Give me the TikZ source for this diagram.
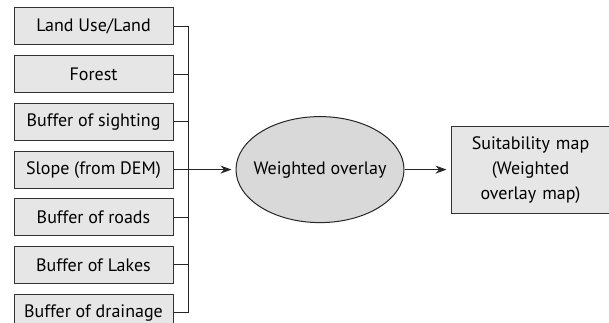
\documentclass[tikz,border=0pt]{standalone}
\usepackage{fontspec}
\setmainfont{PT Sans}
\usepackage{xcolor}
\usetikzlibrary{arrows.meta, positioning, shapes.geometric, calc}
\definecolor{boxgray}{HTML}{E6E6E6}
\definecolor{ovalgray}{HTML}{D9D9D9}

\begin{document}
\begin{tikzpicture}[
  x=1pt, y=1pt,
  layer/.style={rectangle, draw=black!80, line width=1pt, fill=boxgray,
    minimum width=159pt, minimum height=37pt, inner xsep=1pt, inner ysep=2pt,
    font=\fontsize{18}{25}\selectfont},
  overlaynode/.style={ellipse, draw=black!85, line width=1pt, fill=ovalgray,
    minimum width=168pt, minimum height=106pt, inner sep=0pt,
    font=\fontsize{18}{25}\selectfont},
  resultnode/.style={layer, minimum height=87pt, text width=155pt,
    inner xsep=2pt, align=center},
  link/.style={line width=1pt, black!85},
  arr/.style={link, -{Stealth[length=11pt, width=8pt]}, shorten >=4pt},
]
\useasboundingbox (0,0) rectangle (609,323);
% ====== INPUT LAYERS ======
\node[layer] (l_land) at (93.5, 296.5) {Land Use/Land};
\node[layer, below=9.7pt of l_land] (l_forest) {Forest};
\node[layer, below=9.7pt of l_forest] (l_sight) {Buffer of sighting};
\node[layer, below=9.7pt of l_sight] (l_slope) {Slope (from DEM)};
\node[layer, below=9.7pt of l_slope] (l_roads) {Buffer of roads};
\node[layer, below=9.7pt of l_roads] (l_lakes) {Buffer of Lakes};
\node[layer, below=9.7pt of l_lakes] (l_drain) {Buffer of drainage};
%
% ====== OVERLAY AND RESULT ======
% text boxed narrower than it is, so the ellipse keeps its own size
\node[overlaynode, right=62pt of l_slope] (wo) {\makebox[100pt]{Weighted overlay}};
\node[resultnode, right=46pt of wo] (suit)
  {Suitability map\\(Weighted\\overlay map)};
%
% ====== CONNECTORS ======
\coordinate (bus) at ($(l_land.east)+(15pt,0)$);
\draw[link] (l_land.east) -- (bus) |- (l_drain.east);
\foreach \n in {l_forest, l_sight, l_roads, l_lakes}
  \draw[link] (\n.east) -- (\n.east -| bus);
\draw[arr] (l_slope.east) -- (wo.west);
\draw[arr] (wo.east) -- (suit.west);
\end{tikzpicture}
\end{document}
